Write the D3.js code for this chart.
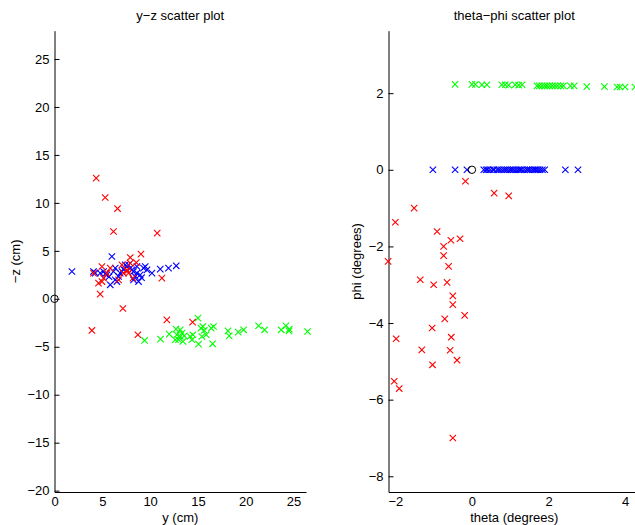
<!DOCTYPE html>
<html>
<head>
<meta charset="utf-8">
<script src="https://cdn.jsdelivr.net/npm/d3@7"></script>
<style>
  body { margin: 0; background: #fff; }
  svg { display: block; font-family: "Liberation Sans", Arial, Helvetica, sans-serif; }
</style>
</head>
<body>
<svg id="chart" width="635" height="525"></svg>
<script>
// y-z scatter (cm): [y, -z]
const yzBlue = [[1.82,2.85],[4.08,2.85],[4.26,2.68],[4.78,2.68],[5.13,2.85],[5.48,2.50],[5.83,1.46],[6.0,4.41],
  [6.17,2.85],[6.35,3.2],[6.35,1.98],[6.53,1.80],[6.70,2.33],[6.87,2.68],[7.05,2.85],[7.4,3.54],[7.57,3.37],
  [7.74,3.54],[7.92,3.2],[8.1,3.02],[8.26,2.85],[8.26,1.98],[8.44,2.33],[8.62,2.68],[8.62,3.37],[8.79,1.80],
  [8.96,2.5],[9.31,3.2],[9.49,3.37],[9.67,3.02],[10.19,2.68],[11.06,3.10],[11.92,3.2],[12.73,3.44],
  [5.3,2.6],[5.7,2.3],[7.2,3.1],[9.1,2.2]];
const yzRed = [[4.36,12.58],[5.30,10.56],[6.59,9.41],[6.17,7.02],[10.74,6.85],[9.04,4.66],[7.92,4.31],[4.96,3.37],
  [4.08,2.68],[5.83,3.2],[4.60,1.63],[4.96,1.80],[5.13,2.16],[4.78,0.49],[5.48,2.68],[6.70,1.98],[7.05,3.54],
  [7.57,3.02],[7.74,2.68],[7.92,3.72],[8.2,2.16],[8.55,3.78],[7.22,2.68],[7.15,-1.01],[11.23,2.16],[3.91,-3.30],
  [8.72,-3.75],[11.75,-2.19],[14.44,-2.43],[7.6,2.9]];
const yzGreen = [[9.42,-4.34],[11.09,-4.2],[12.0,-3.68],[12.7,-3.16],[12.8,-3.75],[12.97,-4.27],[13.15,-3.93],
  [13.33,-3.58],[13.43,-4.45],[13.57,-3.86],[14.19,-3.93],[14.37,-4.27],[14.47,-3.75],[15.0,-2.01],[15.06,-4.72],
  [15.31,-3.05],[15.52,-2.89],[15.41,-3.93],[15.66,-3.30],[15.87,-3.75],[16.39,-3.05],[16.63,-2.89],[16.53,-4.69],
  [18.14,-3.34],[18.27,-3.86],[19.21,-3.47],[19.77,-3.23],[21.34,-2.81],[21.97,-3.23],[23.71,-3.23],[24.2,-2.81],
  [24.55,-3.16],[24.52,-3.34],[26.46,-3.41],[12.63,-4.27],[13.15,-3.23]];
const yzOrigin = [[0, 0]];

// theta-phi scatter (degrees): [theta, phi]
const tpBlue = [[-1.02,0],[-0.44,0],[-0.13,0],[0.31,0],[0.37,0],[0.41,0],[0.48,0],[0.55,0],[0.58,0],[0.66,0],
  [0.71,0],[0.77,0],[0.83,0],[0.88,0],[0.93,0],[0.99,0],[1.04,0],[1.09,0],[1.15,0],[1.21,0],[1.26,0],[1.30,0],
  [1.37,0],[1.43,0],[1.47,0],[1.52,0],[1.58,0],[1.63,0],[1.67,0],[1.72,0],[1.78,0],[1.84,0],[1.90,0],[2.44,0],[2.77,0]];
const tpGreen = [[-0.44,2.23],[0.0,2.23],[0.09,2.23],[0.26,2.22],[0.39,2.22],[0.78,2.22],[0.87,2.22],[0.96,2.21],
  [1.13,2.22],[1.22,2.21],[1.31,2.22],[1.70,2.19],[1.76,2.19],[1.83,2.19],[1.90,2.19],[1.96,2.19],[2.03,2.19],
  [2.10,2.19],[2.17,2.19],[2.24,2.19],[2.32,2.19],[2.39,2.19],[2.57,2.19],[2.67,2.19],[3.0,2.17],[3.46,2.17],
  [3.79,2.16],[3.87,2.16],[4.0,2.16],[4.26,2.16]];
const tpRed = [[-0.17,-0.30],[0.58,-0.61],[0.96,-0.68],[-1.51,-1.0],[-2.0,-1.37],[-0.91,-1.61],[-0.74,-2.0],
  [-0.55,-1.84],[-0.31,-1.80],[-0.74,-2.24],[-0.61,-2.52],[-2.19,-2.39],[-1.35,-2.87],[-1.0,-3.0],[-0.65,-2.94],
  [-0.50,-3.29],[-0.50,-3.52],[-0.19,-3.80],[-0.71,-3.89],[-1.04,-4.13],[-1.98,-4.41],[-0.54,-4.37],[-1.31,-4.70],
  [-0.57,-4.71],[-0.39,-4.97],[-1.03,-5.09],[-2.03,-5.52],[-1.90,-5.71],[-0.50,-7.0]];
const tpOrigin = [[0, 0]];

const yzXTicks = [0, 5, 10, 15, 20, 25];
const yzYTicks = [-20, -15, -10, -5, 0, 5, 10, 15, 20, 25];
const tpXTicks = [-2, 0, 2, 4];
const tpYTicks = [-8, -6, -4, -2, 0, 2];

const svg = d3.select("#chart");
const fontSize = 13;
const plotTop = 30.7, plotBottom = 492;
const fmt = d3.format("d");

function drawPanel(opt) {
    const x = d3.scaleLinear().domain(opt.xDomain).range([opt.left, opt.right]);
    const y = d3.scaleLinear().domain(opt.yDomain).range([plotBottom, plotTop]);
    const g = svg.append("g");

    const xAxis = d3.axisBottom(x).tickValues(opt.xTicks).tickFormat(fmt).tickSize(0).tickPadding(5);
    g.append("g")
        .attr("transform", "translate(0," + plotBottom + ")")
        .call(xAxis)
        .call(function (a) { a.select(".domain").attr("stroke", "#000"); })
        .call(function (a) { a.selectAll("text").attr("font-size", fontSize).attr("fill", "#000"); })
        .attr("font-family", null);

    const yAxis = d3.axisLeft(y).tickValues(opt.yTicks).tickFormat(fmt).tickSizeInner(-5).tickSizeOuter(0).tickPadding(5);
    g.append("g")
        .attr("transform", "translate(" + opt.left + ",0)")
        .call(yAxis)
        .call(function (a) { a.select(".domain").attr("stroke", "#000"); })
        .call(function (a) { a.selectAll("line").attr("stroke", "#000"); })
        .call(function (a) { a.selectAll("text").attr("font-size", fontSize).attr("fill", "#000"); })
        .attr("font-family", null);

    const cx = (opt.left + opt.right) / 2;
    g.append("text")
        .attr("x", cx).attr("y", 20)
        .attr("text-anchor", "middle").attr("font-size", fontSize)
        .text(opt.title);
    g.append("text")
        .attr("x", cx).attr("y", 521.5)
        .attr("text-anchor", "middle").attr("font-size", fontSize)
        .text(opt.xLabel);
    g.append("text")
        .attr("transform", "translate(" + opt.yLabelX + "," + ((plotTop + plotBottom) / 2) + ") rotate(-90)")
        .attr("text-anchor", "middle").attr("font-size", fontSize)
        .text(opt.yLabel);

    const s = 3.2;
    opt.series.forEach(function (ser) {
        g.append("g").selectAll("path")
            .data(ser.data)
            .enter()
            .append("path")
            .attr("d", function (d) {
                const px = x(d[0]), py = y(d[1]);
                return "M" + (px - s) + "," + (py - s) + "L" + (px + s) + "," + (py + s) +
                       "M" + (px - s) + "," + (py + s) + "L" + (px + s) + "," + (py - s);
            })
            .attr("stroke", ser.color)
            .attr("stroke-width", 1.1)
            .attr("fill", "none");
    });

    g.selectAll(".origin")
        .data(opt.origin)
        .enter()
        .append("circle")
        .attr("class", "origin")
        .attr("cx", function (d) { return x(d[0]); })
        .attr("cy", function (d) { return y(d[1]); })
        .attr("r", 3.7)
        .attr("fill", "none")
        .attr("stroke", "#000")
        .attr("stroke-width", 1);
}

drawPanel({
    left: 54.5, right: 306,
    xDomain: [0, 26.3], yDomain: [-20.14, 27.95],
    xTicks: yzXTicks, yTicks: yzYTicks,
    title: "y\u2212z scatter plot", xLabel: "y (cm)", yLabel: "\u2212z (cm)", yLabelX: 20,
    series: [
        { data: yzBlue, color: "#0000ff" },
        { data: yzGreen, color: "#00ff00" },
        { data: yzRed, color: "#ff0000" }
    ],
    origin: yzOrigin
});

drawPanel({
    left: 388.5, right: 640,
    xDomain: [-2.18, 4.39], yDomain: [-8.41, 3.63],
    xTicks: tpXTicks, yTicks: tpYTicks,
    title: "theta\u2212phi scatter plot", xLabel: "theta (degrees)", yLabel: "phi (degrees)", yLabelX: 361,
    series: [
        { data: tpBlue, color: "#0000ff" },
        { data: tpGreen, color: "#00ff00" },
        { data: tpRed, color: "#ff0000" }
    ],
    origin: tpOrigin
});
</script>
</body>
</html>
